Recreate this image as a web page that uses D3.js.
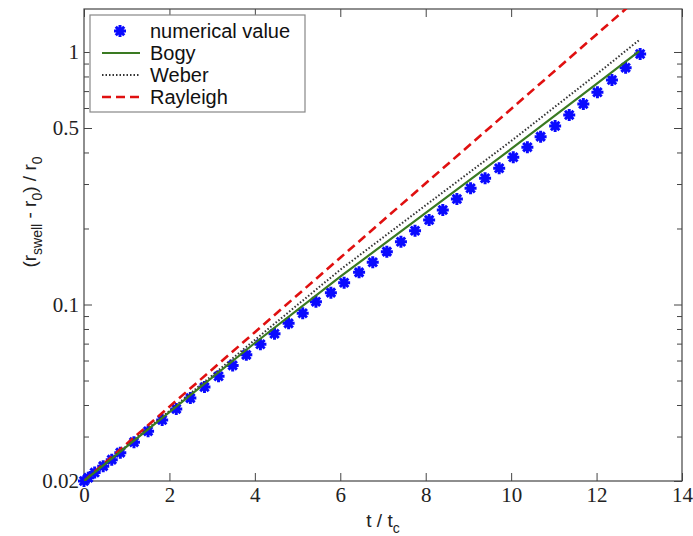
<!DOCTYPE html>
<meta charset="utf-8">
<head>
  <title>Swell growth</title>
</head>

<style>
body {
  margin: 0;
  background: #fff;
}
.tick text {
  font-family: "Liberation Serif", "Times New Roman", serif;
  font-size: 21px;
  fill: #222;
}
.label {
  font-family: "Liberation Sans", Arial, sans-serif;
  font-size: 19px;
  fill: #222;
}
.legend text {
  font-family: "Liberation Sans", Arial, sans-serif;
  font-size: 20px;
  fill: #111;
}
</style>

<body>
  <div id="content">
    <svg width="693" height="536"></svg>
  </div>

  <script src="https://cdnjs.cloudflare.com/ajax/libs/d3/7.8.5/d3.min.js"></script>

  <script>
// numerical value (blue stars)
var numT = [0, 0.1, 0.25, 0.45, 0.65, 0.85, 1.17, 1.5, 1.83, 2.16, 2.49, 2.82, 3.15, 3.48, 3.8,
  4.13, 4.46, 4.79, 5.12, 5.43, 5.78, 6.09, 6.44, 6.76, 7.09, 7.42, 7.75, 8.08, 8.4, 8.73,
  9.05, 9.39, 9.72, 10.05, 10.38, 10.69, 11.03, 11.36, 11.69, 12.02, 12.36, 12.68, 13.02];
var numV = [0.0200, 0.0206, 0.0216, 0.0229, 0.0243, 0.0259, 0.0285, 0.0315, 0.0349, 0.0386,
  0.0426, 0.0471, 0.0520, 0.0574, 0.0632, 0.0696, 0.0766, 0.0842, 0.0923, 0.1026, 0.1114,
  0.1220, 0.1341, 0.1470, 0.1619, 0.1773, 0.1960, 0.2161, 0.2367, 0.2618, 0.2886, 0.3161,
  0.3463, 0.3829, 0.4198, 0.4621, 0.5093, 0.5630, 0.6225, 0.6926, 0.7746, 0.8667, 0.9822];

// model curves
var lineT = [0, 2, 4, 6, 8, 10, 12, 13];
var bogyV = [0.0200, 0.0375, 0.0704, 0.1289, 0.2304, 0.413, 0.747, 1.009];
var weberV = [0.0200, 0.0379, 0.0724, 0.1373, 0.2472, 0.444, 0.816, 1.116];
var rayleighV = [0.0200, 0.0394, 0.0777, 0.1532, 0.302, 0.595, 1.174, 1.65];

// axis ticks
var xTicks = [0, 2, 4, 6, 8, 10, 12, 14];
var yLabels = [0.02, 0.1, 0.5, 1];
var yMinor = [0.03, 0.04, 0.05, 0.06, 0.07, 0.08, 0.09, 0.2, 0.3, 0.4, 0.6, 0.7, 0.8, 0.9];

var legendNames = ['numerical value', 'Bogy', 'Weber', 'Rayleigh'];

var svg = d3.select('#content svg');

// plot box (window.top is taken, so use other names)
var plotL = 84, plotR = 682, plotT = 9, plotB = 481;

var x = d3.scaleLinear().domain([0, 14]).range([plotL, plotR]);
var y = d3.scaleLog().domain([0.02, 1.48]).range([plotB, plotT]);

svg.append('clipPath').attr('id', 'plot')
  .append('rect')
  .attr('x', plotL).attr('y', plotT)
  .attr('width', plotR - plotL).attr('height', plotB - plotT);

// axes, ticks pointing inward
function styleAxis(g) {
  g.select('.domain').remove();
  g.selectAll('.tick line').attr('stroke', '#444');
}

svg.append('g')
  .attr('transform', 'translate(0,' + plotB + ')')
  .call(d3.axisBottom(x).tickValues(xTicks).tickSize(-8).tickPadding(6).tickFormat(d3.format('d')))
  .call(styleAxis);

svg.append('g')
  .attr('transform', 'translate(0,' + plotT + ')')
  .call(d3.axisTop(x).tickValues(xTicks).tickSize(-8).tickFormat(''))
  .call(styleAxis);

svg.append('g')
  .attr('transform', 'translate(' + plotL + ',0)')
  .call(d3.axisLeft(y).tickValues(yLabels).tickSize(-8).tickPadding(5).tickFormat(d3.format('')))
  .call(styleAxis);

svg.append('g')
  .attr('transform', 'translate(' + plotL + ',0)')
  .call(d3.axisLeft(y).tickValues(yMinor).tickSize(-5).tickFormat(''))
  .call(styleAxis);

svg.append('g')
  .attr('transform', 'translate(' + plotR + ',0)')
  .call(d3.axisRight(y).tickValues(yLabels).tickSize(-8).tickFormat(''))
  .call(styleAxis);

svg.append('g')
  .attr('transform', 'translate(' + plotR + ',0)')
  .call(d3.axisRight(y).tickValues(yMinor).tickSize(-5).tickFormat(''))
  .call(styleAxis);

// frame
svg.append('rect')
  .attr('x', plotL).attr('y', plotT)
  .attr('width', plotR - plotL).attr('height', plotB - plotT)
  .attr('fill', 'none')
  .attr('stroke', '#444')
  .attr('stroke-width', 1.2);

// asterisk marker
function star(r) {
  var a = r * 0.7071;
  return 'M' + (-r) + ',0L' + r + ',0M0,' + (-r) + 'L0,' + r +
    'M' + (-a) + ',' + (-a) + 'L' + a + ',' + a + 'M' + (-a) + ',' + a + 'L' + a + ',' + (-a);
}

// stars go under the lines
svg.append('g').selectAll('path')
  .data(d3.zip(numT, numV))
  .enter().append('path')
  .attr('transform', function(d) { return 'translate(' + x(d[0]) + ',' + y(d[1]) + ')'; })
  .attr('d', star(6))
  .attr('stroke', '#0a0aff')
  .attr('stroke-width', 3)
  .attr('fill', 'none');

var line = d3.line()
  .x(function(d) { return x(d[0]); })
  .y(function(d) { return y(d[1]); });

var curves = svg.append('g').attr('clip-path', 'url(#plot)');

var series = [
  {v: rayleighV, color: '#e01010', width: 2.6, dash: '9,5'},
  {v: weberV, color: '#333', width: 2, dash: '1.5,2'},
  {v: bogyV, color: '#3a7a22', width: 2.2, dash: null}
];

series.forEach(function(s) {
  curves.append('path')
    .datum(d3.zip(lineT, s.v))
    .attr('d', line)
    .attr('fill', 'none')
    .attr('stroke', s.color)
    .attr('stroke-width', s.width)
    .attr('stroke-dasharray', s.dash);
});

// axis titles
var xt = svg.append('text').attr('class', 'label')
  .attr('x', (plotL + plotR) / 2).attr('y', 527)
  .attr('text-anchor', 'middle');
xt.append('tspan').text('t / t');
xt.append('tspan').attr('dy', 6).style('font-size', '14px').text('c');

var yt = svg.append('text').attr('class', 'label')
  .attr('transform', 'translate(36,212) rotate(-90)')
  .attr('text-anchor', 'middle');
yt.append('tspan').text('(r');
yt.append('tspan').attr('dy', 6).style('font-size', '14px').text('swell');
yt.append('tspan').attr('dy', -6).text(' - r');
yt.append('tspan').attr('dy', 6).style('font-size', '14px').text('0');
yt.append('tspan').attr('dy', -6).text(') / r');
yt.append('tspan').attr('dy', 6).style('font-size', '14px').text('0');

// legend
var legend = svg.append('g').attr('class', 'legend');
legend.append('rect')
  .attr('x', 90).attr('y', 15)
  .attr('width', 215).attr('height', 97)
  .attr('fill', '#fff')
  .attr('stroke', '#888')
  .attr('stroke-width', 1.2);

var rowY = [31, 53, 75, 97];

legend.append('path')
  .attr('transform', 'translate(120,' + rowY[0] + ')')
  .attr('d', star(6))
  .attr('stroke', '#0a0aff')
  .attr('stroke-width', 3);

[{c: '#3a7a22', w: 2.2, d: null}, {c: '#333', w: 2, d: '1.5,2'}, {c: '#e01010', w: 2.6, d: '9,5'}]
  .forEach(function(s, i) {
    legend.append('line')
      .attr('x1', 102).attr('x2', 140)
      .attr('y1', rowY[i + 1]).attr('y2', rowY[i + 1])
      .attr('stroke', s.c)
      .attr('stroke-width', s.w)
      .attr('stroke-dasharray', s.d);
  });

legend.selectAll('text')
  .data(legendNames)
  .enter().append('text')
  .attr('x', 150)
  .attr('y', function(d, i) { return rowY[i]; })
  .attr('dy', '0.35em')
  .text(function(d) { return d; });
  </script>
</body>
</html>
